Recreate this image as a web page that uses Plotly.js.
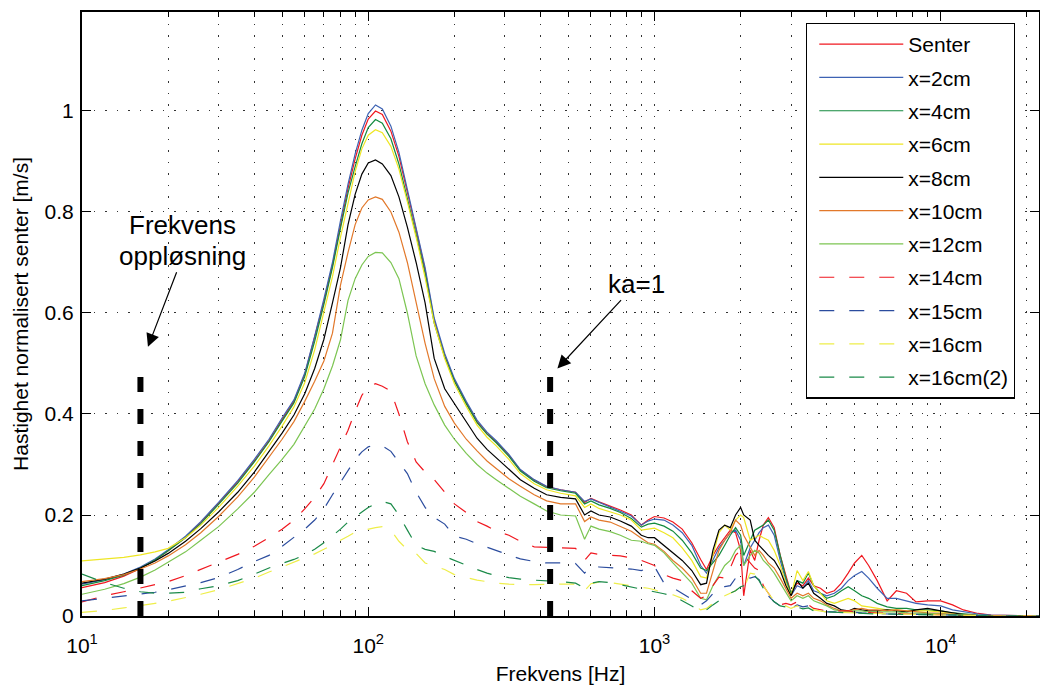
<!DOCTYPE html>
<html>
<head>
<meta charset="utf-8">
<script src="https://cdn.plot.ly/plotly-3.0.1.min.js"></script>
<style>html,body{margin:0;padding:0;background:#fff}#chart{width:1040px;height:686px}</style>
</head>
<body>
<div id="chart"></div>
<script>
// Frequency grid [Hz]
const freqLow = [10, 12, 14, 16, 18, 20, 23, 26, 30, 35, 40, 45, 50, 55, 60, 65, 70, 75, 80, 85, 90, 95, 100, 106, 112, 120, 128, 137, 147, 158, 170, 185, 200, 220, 240, 260, 280, 310, 340, 380, 420, 470];
const freqHigh = [530, 570, 600, 640, 700, 760, 830, 900, 950, 1000, 1080, 1160, 1250, 1350, 1450, 1520, 1600, 1680, 1760, 1840, 1920, 2000, 2050, 2160, 2240, 2320, 2400, 2500, 2620, 2750, 2880, 3000, 3150, 3300, 3450, 3600, 3800, 4000, 4250, 4500, 4750, 5000, 5300, 5600, 6000, 6500, 7000, 7600, 8200, 9000, 10000, 11000, 12000, 13500, 15000, 18000, 22050];

const seriesNames = ['Senter', 'x=2cm', 'x=4cm', 'x=6cm', 'x=8cm', 'x=10cm', 'x=12cm', 'x=14cm', 'x=15cm', 'x=16cm', 'x=16cm(2)'];

const senterLow = [0.056, 0.066, 0.079, 0.094, 0.111, 0.129, 0.156, 0.185, 0.223, 0.266, 0.307, 0.347, 0.389, 0.425, 0.478, 0.55, 0.622, 0.695, 0.775, 0.847, 0.905, 0.952, 0.984, 1.0, 0.993, 0.96, 0.91, 0.84, 0.765, 0.685, 0.585, 0.515, 0.467, 0.422, 0.385, 0.361, 0.345, 0.318, 0.289, 0.269, 0.256, 0.25];
const senterHigh = [0.245, 0.225, 0.233, 0.226, 0.218, 0.21, 0.2, 0.18, 0.19, 0.197, 0.194, 0.186, 0.172, 0.145, 0.112, 0.092, 0.12, 0.14, 0.155, 0.17, 0.165, 0.13, 0.04, 0.13, 0.11, 0.15, 0.18, 0.195, 0.175, 0.12, 0.08, 0.045, 0.065, 0.06, 0.075, 0.06, 0.055, 0.045, 0.05, 0.065, 0.085, 0.105, 0.12, 0.1, 0.07, 0.03, 0.05, 0.045, 0.028, 0.03, 0.03, 0.022, 0.012, 0.005, 0.002, 0.001, 0];

const x2Low = [0.063, 0.072, 0.083, 0.097, 0.113, 0.131, 0.158, 0.187, 0.225, 0.268, 0.31, 0.35, 0.392, 0.428, 0.481, 0.554, 0.628, 0.7, 0.783, 0.855, 0.915, 0.962, 0.995, 1.012, 1.004, 0.97, 0.918, 0.845, 0.77, 0.69, 0.59, 0.52, 0.47, 0.425, 0.388, 0.364, 0.347, 0.32, 0.29, 0.27, 0.257, 0.25];
const x2High = [0.245, 0.227, 0.232, 0.225, 0.216, 0.208, 0.198, 0.18, 0.188, 0.192, 0.19, 0.18, 0.165, 0.14, 0.1, 0.085, 0.11, 0.135, 0.15, 0.165, 0.17, 0.15, 0.1, 0.135, 0.15, 0.165, 0.175, 0.18, 0.16, 0.11, 0.07, 0.04, 0.06, 0.055, 0.07, 0.05, 0.045, 0.04, 0.045, 0.055, 0.07, 0.08, 0.088, 0.075, 0.055, 0.035, 0.035, 0.03, 0.025, 0.022, 0.02, 0.012, 0.008, 0.004, 0.002, 0.001, 0];

const x4Low = [0.06, 0.07, 0.081, 0.095, 0.111, 0.129, 0.155, 0.183, 0.221, 0.263, 0.305, 0.345, 0.386, 0.422, 0.474, 0.544, 0.617, 0.69, 0.768, 0.838, 0.89, 0.935, 0.967, 0.983, 0.976, 0.945, 0.895, 0.828, 0.755, 0.678, 0.58, 0.513, 0.465, 0.42, 0.383, 0.36, 0.343, 0.316, 0.287, 0.267, 0.254, 0.248];
const x4High = [0.243, 0.222, 0.228, 0.22, 0.213, 0.205, 0.193, 0.176, 0.182, 0.184, 0.178, 0.168, 0.15, 0.125, 0.095, 0.09, 0.105, 0.12, 0.14, 0.16, 0.175, 0.16, 0.12, 0.15, 0.17, 0.175, 0.18, 0.19, 0.17, 0.12, 0.075, 0.045, 0.07, 0.065, 0.085, 0.06, 0.045, 0.035, 0.04, 0.05, 0.058, 0.05, 0.04, 0.035, 0.025, 0.018, 0.015, 0.015, 0.012, 0.012, 0.01, 0.006, 0.004, 0.002, 0.001, 0.001, 0];

const x6Low = [0.109, 0.112, 0.116, 0.121, 0.127, 0.134, 0.155, 0.18, 0.215, 0.257, 0.297, 0.337, 0.376, 0.414, 0.462, 0.527, 0.6, 0.672, 0.75, 0.82, 0.88, 0.925, 0.952, 0.963, 0.957, 0.93, 0.885, 0.82, 0.75, 0.67, 0.58, 0.51, 0.46, 0.415, 0.378, 0.354, 0.337, 0.31, 0.282, 0.262, 0.25, 0.243];
const x6High = [0.238, 0.215, 0.222, 0.213, 0.207, 0.2, 0.19, 0.17, 0.172, 0.174, 0.165, 0.155, 0.135, 0.11, 0.078, 0.075, 0.12, 0.165, 0.18, 0.17, 0.19, 0.2, 0.195, 0.15, 0.155, 0.16, 0.155, 0.15, 0.13, 0.1, 0.065, 0.04, 0.09, 0.07, 0.088, 0.06, 0.045, 0.03, 0.025, 0.03, 0.035, 0.03, 0.02, 0.018, 0.015, 0.012, 0.012, 0.01, 0.01, 0.01, 0.008, 0.005, 0.003, 0.001, 0.001, 0, 0];

const x8Low = [0.065, 0.073, 0.083, 0.095, 0.109, 0.124, 0.148, 0.173, 0.206, 0.245, 0.285, 0.325, 0.362, 0.398, 0.44, 0.49, 0.548, 0.62, 0.69, 0.775, 0.835, 0.875, 0.897, 0.903, 0.895, 0.872, 0.83, 0.77, 0.7, 0.62, 0.51, 0.45, 0.42, 0.385, 0.352, 0.33, 0.313, 0.29, 0.27, 0.253, 0.24, 0.235];
const x8High = [0.232, 0.2, 0.208, 0.2, 0.196, 0.188, 0.178, 0.16, 0.155, 0.155, 0.14, 0.125, 0.11, 0.09, 0.062, 0.065, 0.13, 0.17, 0.18, 0.175, 0.2, 0.215, 0.2, 0.19, 0.15, 0.14, 0.13, 0.12, 0.11, 0.09, 0.06, 0.04, 0.07, 0.055, 0.065, 0.045, 0.035, 0.025, 0.02, 0.012, 0.01, 0.015, 0.012, 0.01, 0.01, 0.012, 0.01, 0.008, 0.012, 0.015, 0.01, 0.006, 0.003, 0.001, 0, 0, 0];

const x10Low = [0.068, 0.074, 0.082, 0.093, 0.105, 0.119, 0.141, 0.165, 0.197, 0.236, 0.275, 0.315, 0.35, 0.385, 0.425, 0.465, 0.505, 0.56, 0.655, 0.72, 0.775, 0.808, 0.824, 0.83, 0.825, 0.8, 0.76, 0.7, 0.62, 0.54, 0.47, 0.415, 0.382, 0.35, 0.327, 0.307, 0.292, 0.272, 0.257, 0.24, 0.228, 0.222];
const x10High = [0.222, 0.187, 0.196, 0.19, 0.186, 0.178, 0.168, 0.154, 0.145, 0.142, 0.128, 0.11, 0.095, 0.075, 0.045, 0.045, 0.09, 0.13, 0.15, 0.165, 0.19, 0.18, 0.16, 0.135, 0.12, 0.13, 0.12, 0.105, 0.095, 0.075, 0.055, 0.035, 0.045, 0.04, 0.045, 0.035, 0.03, 0.022, 0.015, 0.01, 0.01, 0.012, 0.015, 0.012, 0.012, 0.01, 0.012, 0.01, 0.008, 0.006, 0.005, 0.003, 0.002, 0.001, 0, 0, 0];

const x12Low = [0.043, 0.053, 0.064, 0.077, 0.091, 0.106, 0.127, 0.15, 0.177, 0.212, 0.245, 0.28, 0.31, 0.34, 0.375, 0.41, 0.45, 0.495, 0.547, 0.625, 0.668, 0.695, 0.712, 0.72, 0.719, 0.7, 0.668, 0.6, 0.515, 0.46, 0.418, 0.378, 0.35, 0.322, 0.3, 0.283, 0.27, 0.252, 0.237, 0.222, 0.208, 0.2];
const x12High = [0.198, 0.152, 0.178, 0.172, 0.167, 0.16, 0.15, 0.148, 0.143, 0.14, 0.125, 0.105, 0.085, 0.065, 0.035, 0.032, 0.06, 0.08, 0.1, 0.11, 0.13, 0.14, 0.1, 0.12, 0.13, 0.125, 0.11, 0.1, 0.085, 0.065, 0.045, 0.03, 0.04, 0.035, 0.04, 0.03, 0.025, 0.02, 0.012, 0.01, 0.008, 0.01, 0.01, 0.008, 0.008, 0.008, 0.008, 0.006, 0.005, 0.005, 0.004, 0.003, 0.002, 0.001, 0, 0, 0];

const x14Low = [0.028, 0.04, 0.048, 0.055, 0.062, 0.068, 0.08, 0.092, 0.106, 0.122, 0.138, 0.155, 0.172, 0.19, 0.212, 0.235, 0.262, 0.3, 0.333, 0.368, 0.405, 0.437, 0.455, 0.46, 0.455, 0.445, 0.4, 0.345, 0.305, 0.285, 0.27, 0.245, 0.222, 0.205, 0.187, 0.178, 0.168, 0.16, 0.148, 0.137, 0.136, 0.135];
const x14High = [0.134, 0.11, 0.125, 0.122, 0.12, 0.119, 0.115, 0.11, 0.105, 0.1, 0.082, 0.075, 0.07, 0.05, 0.035, 0.04, 0.06, 0.077, 0.075, 0.095, 0.12, 0.13, 0.12, 0.105, 0.095, 0.09, 0.06, 0.045, 0.03, 0.022, 0.025, 0.022, 0.028, 0.02, 0.022, 0.015, 0.012, 0.01, 0.01, 0.01, 0.01, 0.008, 0.008, 0.007, 0.006, 0.005, 0.005, 0.004, 0.004, 0.003, 0.003, 0.002, 0.001, 0.001, 0, 0, 0];

const x15Low = [0.03, 0.035, 0.039, 0.043, 0.047, 0.052, 0.059, 0.066, 0.076, 0.092, 0.108, 0.12, 0.138, 0.155, 0.172, 0.19, 0.212, 0.24, 0.265, 0.29, 0.31, 0.325, 0.335, 0.339, 0.337, 0.326, 0.305, 0.282, 0.245, 0.215, 0.195, 0.182, 0.158, 0.152, 0.143, 0.136, 0.13, 0.12, 0.113, 0.108, 0.105, 0.105];
const x15High = [0.104, 0.085, 0.098, 0.097, 0.096, 0.095, 0.093, 0.09, 0.095, 0.098, 0.065, 0.056, 0.045, 0.032, 0.022, 0.03, 0.045, 0.058, 0.058, 0.06, 0.075, 0.08, 0.078, 0.075, 0.078, 0.072, 0.055, 0.04, 0.028, 0.02, 0.018, 0.015, 0.022, 0.018, 0.02, 0.012, 0.01, 0.008, 0.008, 0.008, 0.008, 0.007, 0.006, 0.006, 0.005, 0.004, 0.004, 0.003, 0.003, 0.003, 0.002, 0.002, 0.001, 0.001, 0, 0, 0];

const x16Low = [0.007, 0.011, 0.016, 0.02, 0.025, 0.029, 0.036, 0.043, 0.052, 0.064, 0.075, 0.087, 0.097, 0.106, 0.114, 0.123, 0.132, 0.142, 0.15, 0.158, 0.166, 0.169, 0.172, 0.175, 0.177, 0.17, 0.148, 0.131, 0.124, 0.105, 0.099, 0.092, 0.082, 0.076, 0.071, 0.068, 0.065, 0.063, 0.062, 0.062, 0.063, 0.063];
const x16High = [0.063, 0.05, 0.064, 0.067, 0.066, 0.063, 0.06, 0.056, 0.055, 0.052, 0.045, 0.042, 0.035, 0.025, 0.012, 0.015, 0.025, 0.035, 0.04, 0.045, 0.05, 0.06, 0.055, 0.085, 0.083, 0.075, 0.06, 0.045, 0.03, 0.022, 0.02, 0.015, 0.02, 0.015, 0.02, 0.012, 0.01, 0.008, 0.008, 0.007, 0.007, 0.006, 0.006, 0.005, 0.005, 0.004, 0.004, 0.003, 0.003, 0.003, 0.002, 0.002, 0.001, 0.001, 0, 0, 0];

const x16bLow = [0.083, 0.066, 0.055, 0.048, 0.045, 0.045, 0.047, 0.054, 0.06, 0.07, 0.083, 0.095, 0.104, 0.112, 0.121, 0.132, 0.145, 0.158, 0.172, 0.186, 0.196, 0.206, 0.215, 0.222, 0.227, 0.222, 0.2, 0.17, 0.14, 0.132, 0.128, 0.118, 0.11, 0.1, 0.092, 0.085, 0.08, 0.076, 0.073, 0.071, 0.07, 0.068];
const x16bHigh = [0.065, 0.055, 0.065, 0.068, 0.066, 0.062, 0.058, 0.054, 0.05, 0.048, 0.044, 0.04, 0.03, 0.02, 0.008, 0.012, 0.022, 0.03, 0.038, 0.045, 0.05, 0.058, 0.06, 0.075, 0.08, 0.07, 0.055, 0.04, 0.028, 0.02, 0.018, 0.014, 0.018, 0.014, 0.016, 0.01, 0.009, 0.008, 0.007, 0.007, 0.006, 0.006, 0.005, 0.005, 0.004, 0.004, 0.003, 0.003, 0.003, 0.002, 0.002, 0.002, 0.001, 0.001, 0, 0, 0];

// Marker lines: frequency resolution and ka=1
const resolutionFreq = [16, 16];
const kaFreq = [432, 432];
const markerLevel = [0, 0.477];

// x-axis ticks
const xMajorTicks = [10, 100, 1000, 10000];
const xMajorLabels = ['10<sup>1</sup>', '10<sup>2</sup>', '10<sup>3</sup>', '10<sup>4</sup>'];
const xMinorTicks = [20, 30, 40, 50, 60, 70, 80, 90, 200, 300, 400, 500, 600, 700, 800, 900, 2000, 3000, 4000, 5000, 6000, 7000, 8000, 9000, 20000];

const freq = freqLow.concat(freqHigh);
const seriesValues = [
  senterLow.concat(senterHigh), x2Low.concat(x2High), x4Low.concat(x4High), x6Low.concat(x6High),
  x8Low.concat(x8High), x10Low.concat(x10High), x12Low.concat(x12High), x14Low.concat(x14High),
  x15Low.concat(x15High), x16Low.concat(x16High), x16bLow.concat(x16bHigh)
];
seriesValues.forEach((v, i) => { if (v.length !== freq.length) throw new Error('length mismatch ' + seriesNames[i] + ' ' + v.length + ' vs ' + freq.length); });

const colors = ['#f0171f', '#3d62b3', '#138a3e', '#eee624', '#000000', '#e2782a', '#7cc552', '#f0171f', '#2b4c9e', '#eeee4a', '#1a8a48'];
const dashed = [false, false, false, false, false, false, false, true, true, true, true];

const FONT = '"Liberation Sans", Arial, Helvetica, sans-serif';

const traces = seriesNames.map((name, i) => ({
  type: 'scatter', mode: 'lines', name: name, x: freq, y: seriesValues[i],
  legendgroup: 'g' + i,
  line: {color: colors[i], width: 1.2, dash: dashed[i] ? '15px,15px' : 'solid'},
  hoverinfo: 'skip'
}));

traces.push({type: 'scatter', mode: 'lines', x: resolutionFreq, y: markerLevel, showlegend: false,
  line: {color: 'black', width: 6, dash: '15px,17px'}, hoverinfo: 'skip'});
traces.push({type: 'scatter', mode: 'lines', x: kaFreq, y: markerLevel, showlegend: false,
  line: {color: 'black', width: 6, dash: '15px,17px'}, hoverinfo: 'skip'});

const gridStyle = {showgrid: true, gridcolor: '#333', gridwidth: 1, griddash: '1.5px,10px'};

const layout = {
  width: 1040, height: 686,
  margin: {l: 82, r: 1, t: 12, b: 70},
  paper_bgcolor: '#fff', plot_bgcolor: '#fff',
  font: {family: FONT, size: 21, color: '#000'},
  showlegend: true,
  xaxis: Object.assign({
    type: 'log', range: [1, Math.log10(22050)],
    tickmode: 'array', tickvals: xMajorTicks, ticktext: xMajorLabels,
    ticks: 'inside', ticklen: 9, tickwidth: 1, tickcolor: '#000',
    showline: true, linecolor: '#000', linewidth: 2, mirror: 'allticks',
    zeroline: false, tickfont: {family: FONT, size: 21, color: '#000'},
    ticklabelstandoff: 10,
    title: {text: 'Frekvens [Hz]', font: {family: FONT, size: 21, color: '#000'}, standoff: 10},
    minor: Object.assign({tickmode: 'array', tickvals: xMinorTicks, ticks: 'inside', ticklen: 5, tickcolor: '#000'}, gridStyle)
  }, gridStyle),
  yaxis: Object.assign({
    range: [0, 1.196], tick0: 0, dtick: 0.2,
    ticks: 'inside', ticklen: 9, tickwidth: 1, tickcolor: '#000',
    showline: true, linecolor: '#000', linewidth: 2, mirror: 'allticks',
    zeroline: false, tickfont: {family: FONT, size: 21, color: '#000'},
    ticklabelstandoff: 2,
    title: {text: 'Hastighet normalisert senter [m/s]', font: {family: FONT, size: 21, color: '#000'}, standoff: 10}
  }, gridStyle),
  legend: {
    x: 0.7565, y: 0.9823, xanchor: 'left', yanchor: 'top',
    bgcolor: '#fff', bordercolor: '#000', borderwidth: 1.3,
    font: {family: FONT, size: 21, color: '#000'},
    itemwidth: 84, indentation: 7, traceorder: 'grouped', tracegroupgap: 3
  },
  annotations: [
    {x: Math.log10(22.5), y: 0.774, xref: 'x', yref: 'y', text: 'Frekvens', showarrow: false,
     font: {family: FONT, size: 26, color: '#000'}, xanchor: 'center', yanchor: 'middle'},
    {x: Math.log10(17.0), y: 0.533, xref: 'x', yref: 'y', text: 'oppløsning', showarrow: true,
     ax: 35, ay: -91, arrowhead: 2, arrowsize: 2.2, arrowwidth: 1.2, arrowcolor: '#000',
     font: {family: FONT, size: 26, color: '#000'}},
    {x: Math.log10(458), y: 0.49, xref: 'x', yref: 'y', text: 'ka=1', showarrow: true,
     ax: 79, ay: -85, arrowhead: 2, arrowsize: 2.2, arrowwidth: 1.2, arrowcolor: '#000',
     font: {family: FONT, size: 26, color: '#000'}}
  ]
};

Plotly.newPlot('chart', traces, layout, {displayModeBar: false, staticPlot: true});
</script>
</body>
</html>
